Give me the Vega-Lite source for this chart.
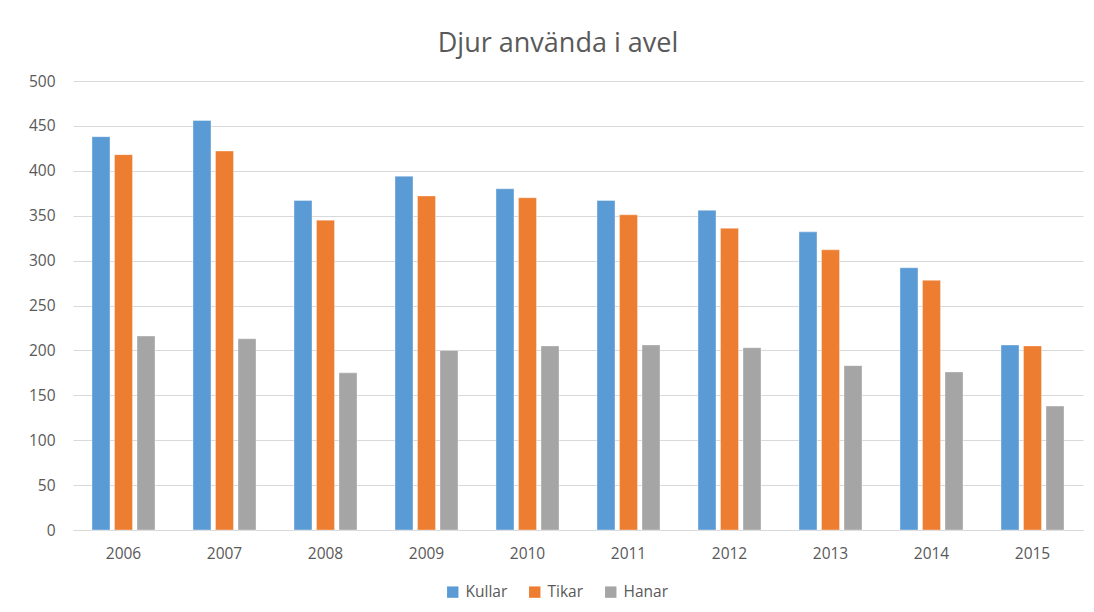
{
  "$schema": "https://vega.github.io/schema/vega-lite/v6.json",
  "width": 1010,
  "height": 449,
  "autosize": "none",
  "padding": {"left": 73, "right": 11, "top": 81, "bottom": 82},
  "background": "white",
  "title": {
    "text": "Djur använda i avel",
    "font": "Open Sans",
    "fontSize": 27,
    "fontWeight": "normal",
    "color": "#595959",
    "anchor": "middle",
    "dx": -20,
    "offset": 16
  },
  "data": {
    "values": [
      {"year": "2006", "serie": "Kullar", "value": 438},
      {"year": "2006", "serie": "Tikar", "value": 418},
      {"year": "2006", "serie": "Hanar", "value": 216},
      {"year": "2007", "serie": "Kullar", "value": 456},
      {"year": "2007", "serie": "Tikar", "value": 422},
      {"year": "2007", "serie": "Hanar", "value": 213},
      {"year": "2008", "serie": "Kullar", "value": 367},
      {"year": "2008", "serie": "Tikar", "value": 345},
      {"year": "2008", "serie": "Hanar", "value": 175},
      {"year": "2009", "serie": "Kullar", "value": 394},
      {"year": "2009", "serie": "Tikar", "value": 372},
      {"year": "2009", "serie": "Hanar", "value": 200},
      {"year": "2010", "serie": "Kullar", "value": 380},
      {"year": "2010", "serie": "Tikar", "value": 370},
      {"year": "2010", "serie": "Hanar", "value": 205},
      {"year": "2011", "serie": "Kullar", "value": 367},
      {"year": "2011", "serie": "Tikar", "value": 351},
      {"year": "2011", "serie": "Hanar", "value": 206},
      {"year": "2012", "serie": "Kullar", "value": 356},
      {"year": "2012", "serie": "Tikar", "value": 336},
      {"year": "2012", "serie": "Hanar", "value": 203},
      {"year": "2013", "serie": "Kullar", "value": 332},
      {"year": "2013", "serie": "Tikar", "value": 312},
      {"year": "2013", "serie": "Hanar", "value": 183},
      {"year": "2014", "serie": "Kullar", "value": 292},
      {"year": "2014", "serie": "Tikar", "value": 278},
      {"year": "2014", "serie": "Hanar", "value": 176},
      {"year": "2015", "serie": "Kullar", "value": 206},
      {"year": "2015", "serie": "Tikar", "value": 205},
      {"year": "2015", "serie": "Hanar", "value": 138}
    ]
  },
  "mark": {"type": "bar", "stroke": "white", "strokeWidth": 0.6, "strokeOpacity": 0.6},
  "encoding": {
    "x": {
      "field": "year",
      "type": "nominal",
      "title": null,
      "scale": {"paddingInner": 0.376, "paddingOuter": 0.188},
      "axis": {
        "labelAngle": 0,
        "labelFont": "Open Sans",
        "labelFontSize": 15.5,
        "labelColor": "#595959",
        "labelPadding": 16,
        "ticks": false,
        "domainColor": "#d9d9d9",
        "domainWidth": 1.2
      }
    },
    "xOffset": {
      "field": "serie",
      "type": "nominal",
      "sort": ["Kullar", "Tikar", "Hanar"],
      "scale": {"paddingInner": 0.2, "paddingOuter": 0}
    },
    "y": {
      "field": "value",
      "type": "quantitative",
      "title": null,
      "scale": {"domain": [0, 500]},
      "axis": {
        "values": [0, 50, 100, 150, 200, 250, 300, 350, 400, 450, 500],
        "labelFont": "Open Sans",
        "labelFontSize": 15.5,
        "labelColor": "#595959",
        "labelPadding": 18,
        "ticks": false,
        "domain": false,
        "gridColor": "#d9d9d9",
        "gridWidth": 1
      }
    },
    "color": {
      "field": "serie",
      "type": "nominal",
      "sort": ["Kullar", "Tikar", "Hanar"],
      "scale": {"domain": ["Kullar", "Tikar", "Hanar"], "range": ["#5b9bd5", "#ed7d31", "#a5a5a5"]},
      "legend": {
        "title": null,
        "orient": "none",
        "legendX": 372,
        "legendY": 503,
        "direction": "horizontal",
        "symbolType": "square",
        "symbolSize": 130,
        "symbolStrokeWidth": 0,
        "labelFont": "Open Sans",
        "labelFontSize": 15.5,
        "labelColor": "#595959",
        "labelOffset": 5,
        "columnPadding": 19
      }
    }
  },
  "config": {
    "view": {"stroke": null}
  }
}
